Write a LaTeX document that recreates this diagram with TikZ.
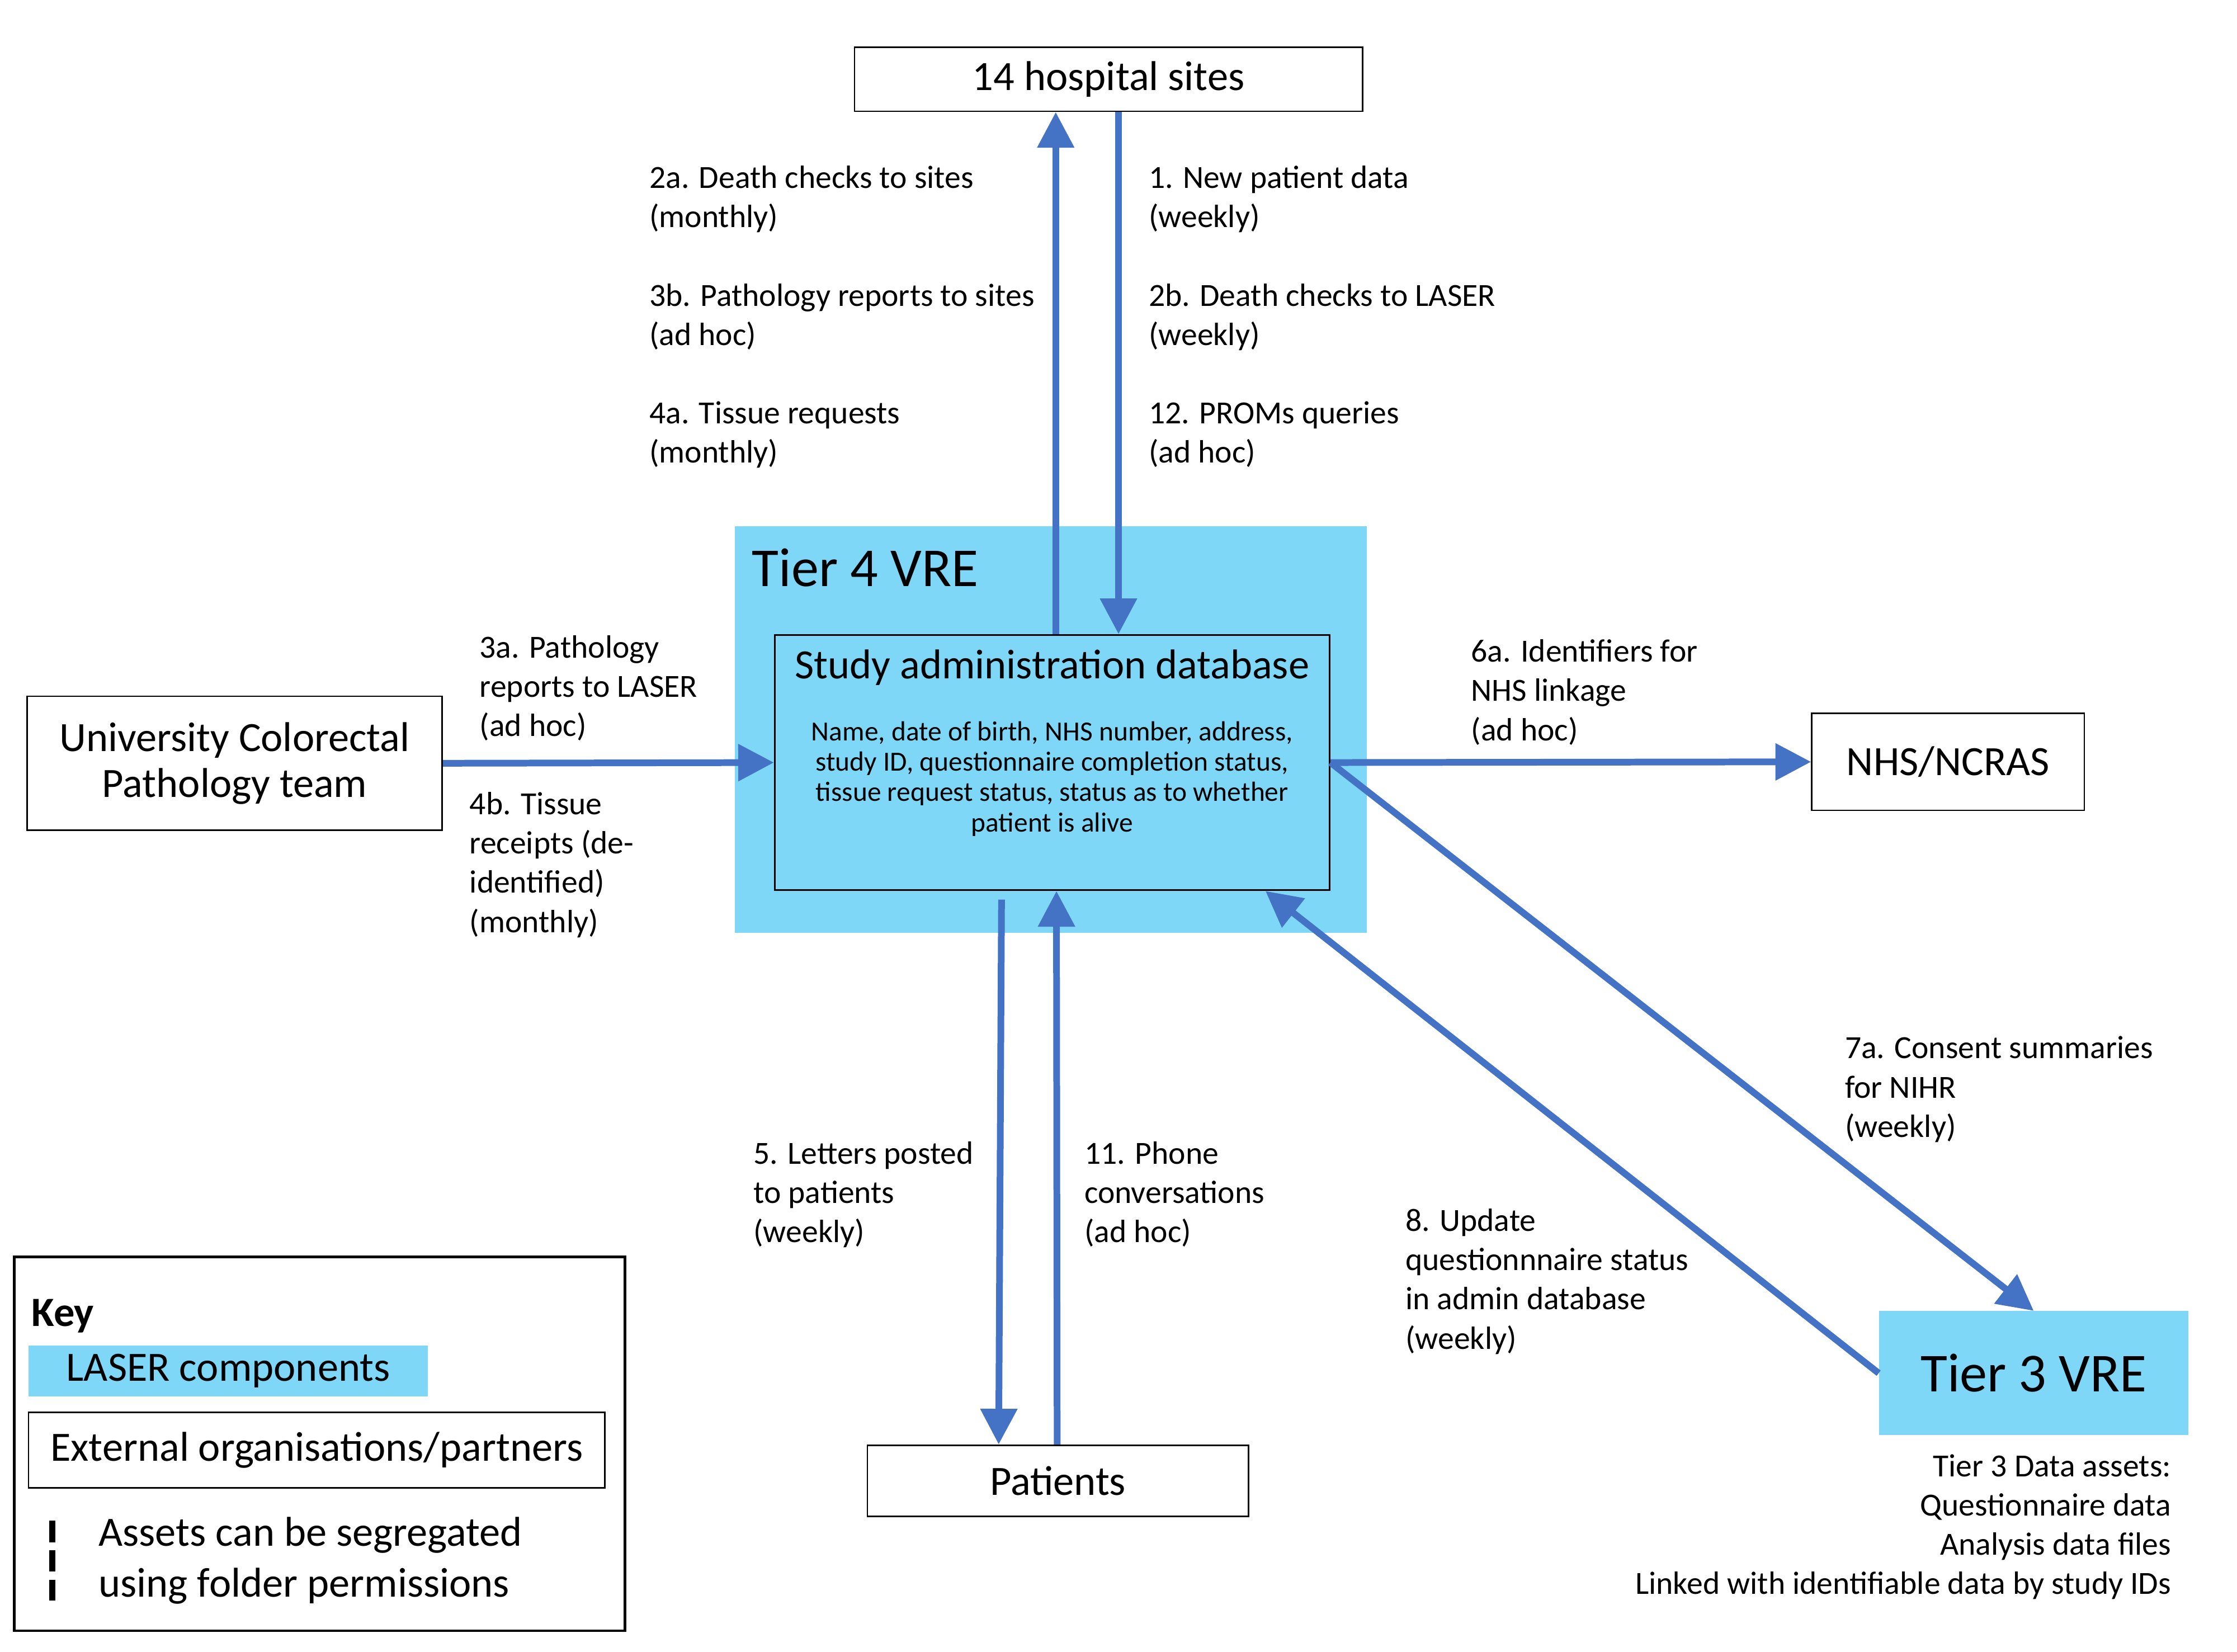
\documentclass[tikz,border=0pt]{standalone}
\usepackage{fontspec}
\setmainfont{Carlito}
\usetikzlibrary{arrows.meta,calc}
\definecolor{flowblue}{RGB}{68,114,196}
\definecolor{laserblue}{RGB}{127,215,247}
\tikzset{
  ext_box/.style = {draw=black, line width=1.1pt, fill=white, inner sep=0pt,
    align=center, font=\fontsize{29.2}{32}\selectfont},
  laser_box/.style = {fill=laserblue, inner sep=0pt},
  flow_lbl/.style = {anchor=base west, align=left, inner sep=0pt,
    font=\fontsize{22.6}{27.5}\selectfont},
  flow/.style = {flowblue, line width=4.7pt}}

\begin{document}
\begin{tikzpicture}[x=1pt,y=-1pt,->,>={Triangle[width=25pt,length=25pt]}]
\useasboundingbox (0,0) rectangle (1568,1157.6);

% VRE areas
\node [laser_box, minimum width=443, minimum height=285] (tier4) at (736.5,511.5) {};
\node [anchor=base west, inner sep=0pt, font=\fontsize{38.5}{40}\selectfont] (tier4_lbl) at (527,411) {Tier 4 VRE};
\node [draw=black, line width=1.1pt, inner sep=0pt, minimum width=389, minimum height=179] (db) at (737.5,534.5) {};
\node [anchor=base, inner sep=0pt, font=\fontsize{29.2}{32}\selectfont] (db_title) at (737.5,475.5) {Study administration database};
\node [anchor=base, align=center, inner sep=0pt, font=\fontsize{19.4}{21.3}\selectfont] (db_text) at (737.5,583)
  {Name, date of birth, NHS number, address,\\study ID, questionnaire completion status,\\tissue request status, status as to whether\\patient is alive};
\node [laser_box, minimum width=217, minimum height=87, font=\fontsize{38.5}{40}\selectfont] (tier3) at (1425.5,962.5) {Tier 3 VRE};

% external partners
\node [ext_box, minimum width=356, minimum height=45] (hosp) at (777,55.5) {14 hospital sites};
\node [ext_box, minimum width=291, minimum height=94] (univ) at (164.5,535) {University Colorectal\\Pathology team};
\node [ext_box, minimum width=191, minimum height=68] (nhs) at (1365.5,534) {NHS/NCRAS};
\node [ext_box, minimum width=267, minimum height=50] (patients) at (741.5,1038) {Patients};

% data flows
\coordinate (letters_start) at ($(db.south)+(-35.5,6)$);
\draw [flow] ($(db.north)+(2.5,0)$) -- ($(hosp.south)+(-37,0)$);
\draw [flow] ($(hosp.south)+(7,0)$) -- ($(db.north)+(46.5,0)$);
\draw [flow] (univ.east) -- (db.west);
\draw [flow] (db.east) -- (nhs.west);
\draw [flow] (db.east) -- (tier3.north);
\draw [flow] (tier3.west) -- ($(db.south)+(149.5,0)$);
\draw [flow] (letters_start) -- ($(patients.north)+(-41.5,0)$);
\draw [flow] ($(patients.north)+(-0.5,0)$) -- ($(db.south)+(3,0)$);

\node [flow_lbl] (lbl_sites) at (455,324.5) {2a. Death checks to sites\\(monthly)\\[27.5pt]3b. Pathology reports to sites\\(ad hoc)\\[27.5pt]4a. Tissue requests\\(monthly)};
\node [flow_lbl] (lbl_laser) at (805,324.5) {1. New patient data\\(weekly)\\[27.5pt]2b. Death checks to LASER\\(weekly)\\[27.5pt]12. PROMs queries\\(ad hoc)};
\node [flow_lbl] (lbl_3a) at (336,516) {3a. Pathology\\reports to LASER\\(ad hoc)};
\node [flow_lbl] (lbl_4b) at (329,653.5) {4b. Tissue\\receipts (de-\\identified)\\(monthly)};
\node [flow_lbl] (lbl_6a) at (1031,519) {6a. Identifiers for\\NHS linkage\\(ad hoc)};
\node [flow_lbl] (lbl_7a) at (1293,797) {7a. Consent summaries\\for NIHR\\(weekly)};
\node [flow_lbl] (lbl_8) at (985,945.5) {8. Update\\questionnnaire status\\in admin database\\(weekly)};
\node [flow_lbl] (lbl_5) at (528,871) {5. Letters posted\\to patients\\(weekly)};
\node [flow_lbl] (lbl_11) at (760,871) {11. Phone\\conversations\\(ad hoc)};
\node [flow_lbl, anchor=base east, align=right] (t3_assets) at (1522,1117.5) {Tier 3 Data assets:\\Questionnaire data\\Analysis data files\\Linked with identifiable data by study IDs};

% key
\node [draw=black, line width=1.8pt, inner sep=0pt, minimum width=428, minimum height=262] (key) at (224,1012) {};
\node [anchor=base west, inner sep=0pt, font=\bfseries\fontsize{29.2}{32}\selectfont] (key_title) at (22,929.5) {Key};
\node [laser_box, minimum width=280, minimum height=36, font=\fontsize{29.2}{32}\selectfont] (key_laser) at (160,961) {LASER components};
\node [ext_box, minimum width=404, minimum height=53] (key_ext) at (222,1016.5) {External organisations/partners};
\draw [-, line width=4.5pt, dash pattern=on 15pt off 5.6pt] (36.6,1066) -- (36.6,1122);
\node [flow_lbl, font=\fontsize{29.2}{36}\selectfont] (key_assets) at (69,1119.5) {Assets can be segregated\\using folder permissions};
\end{tikzpicture}
\end{document}
